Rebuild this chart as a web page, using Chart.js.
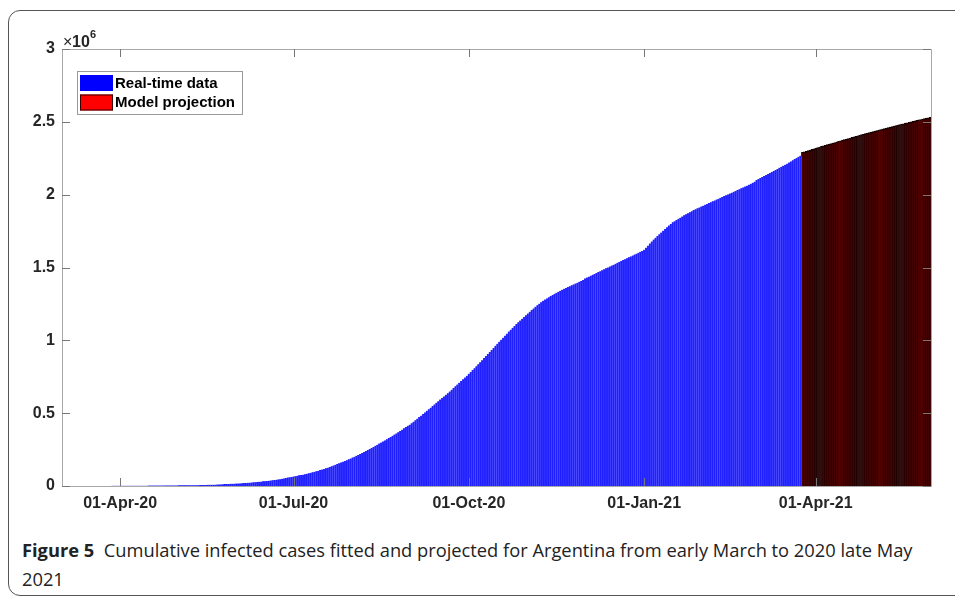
<!DOCTYPE html>
<html>
<head>
<meta charset="utf-8">
<script src="https://cdn.jsdelivr.net/npm/chart.js@4.4.1/dist/chart.umd.min.js"></script>
<style>
  body { margin: 0; background: #fff; width: 955px; height: 596px; overflow: hidden; position: relative; }
  .frame { position: absolute; left: 8px; top: 10px; width: 1000px; height: 584px; border: 1.5px solid #555; border-radius: 12px; }
  #wrap { position: absolute; left: 0; top: 0; width: 955px; height: 520px; }
  .caption { position: absolute; left: 22px; top: 535px; font-family: "Open Sans", sans-serif; font-size: 18.3px; line-height: 29px; color: #222; white-space: nowrap; }
  .caption b { font-weight: 700; }
</style>
</head>
<body>
<div class="frame"></div>
<div id="wrap"><canvas id="casesChart" width="955" height="520"></canvas></div>
<div class="caption"><b>Figure 5</b>&nbsp; Cumulative infected cases fitted and projected for Argentina from early March to 2020 late May<br>2021</div>
<script>
// cumulative cases, thousands, one value per day from 02-Mar-20
const realCases = [
    0,0,0,0,0,0,0,0,0,0,0,0,0,0,0,0,0,0,0,0,0,0,0,0,0,0,1,1,1,1,
    1,1,1,1,1,2,2,2,2,2,2,2,2,2,2,3,3,3,3,3,3,3,3,3,4,4,4,4,4,4,
    4,5,5,5,5,5,5,5,6,6,6,6,7,7,7,7,8,8,8,9,9,10,11,11,12,13,13,14,15,15,16,
    17,17,18,19,20,21,22,23,24,25,26,27,29,30,32,33,34,36,38,40,41,43,45,47,50,52,55,58,60,62,
    65,67,70,73,75,78,81,84,87,91,94,98,101,105,109,113,117,121,125,130,135,140,146,151,157,162,167,172,177,183,189,
    195,201,207,213,219,226,233,240,247,254,261,268,276,283,291,298,306,313,321,329,337,345,353,361,369,378,387,396,405,413,421,
    430,441,451,462,473,483,494,505,516,527,538,549,560,571,582,593,604,615,626,637,649,661,673,685,697,709,721,733,745,757,
    770,783,796,809,822,836,850,864,878,892,906,920,934,948,962,976,990,1004,1018,1032,1046,1060,1073,1086,1099,1112,1124,1136,1148,1160,1172,
    1184,1196,1208,1219,1230,1241,1251,1261,1271,1280,1288,1296,1304,1312,1319,1326,1333,1340,1347,1354,1360,1366,1372,1378,1384,1390,1396,1402,1408,1414,
    1425,1431,1437,1444,1450,1456,1463,1469,1475,1481,1488,1494,1500,1507,1513,1519,1526,1532,1538,1545,1551,1557,1564,1570,1576,1582,1589,1595,1601,1608,1614,
    1622,1636,1650,1664,1678,1692,1704,1716,1728,1740,1752,1764,1776,1788,1799,1810,1818,1826,1834,1842,1850,1858,1866,1873,1880,1887,1894,1900,1906,1912,1918,
    1924,1930,1936,1942,1948,1954,1960,1966,1972,1978,1984,1990,1996,2002,2008,2014,2020,2026,2032,2038,2044,2050,2056,2062,2068,2075,2082,2089,
    2100,2107,2114,2121,2128,2135,2142,2149,2156,2163,2170,2177,2184,2191,2198,2205,2212,2220,2228,2236,2244,2252,2260,2268
];

// model projection, thousands, 25-Mar-21 to 31-May-21
const projCases = [
    2290,2294,2298,2302,2306,2311,2315,2319,2323,2327,2331,
    2335,2339,2343,2347,2351,2355,2358,2362,2366,2370,
    2374,2378,2382,2385,2389,2393,2397,2400,2404,2408,
    2412,2415,2419,2422,2426,2429,2433,2437,2440,2444,
    2447,2451,2454,2457,2461,2464,2468,2471,2474,2478,
    2481,2484,2487,2491,2494,2497,2500,2504,2507,2510,
    2513,2516,2519,2522,2525,2528,2531
];

const tickDates = ['01-Apr-20', '01-Jul-20', '01-Oct-20', '01-Jan-21', '01-Apr-21'];
const legendNames = ['Real-time data', 'Model projection'];

const months = ['Jan','Feb','Mar','Apr','May','Jun','Jul','Aug','Sep','Oct','Nov','Dec'];
const labels = [];
for (let i = 0; i < realCases.length + projCases.length; i++) {
    const d = new Date(2020, 2, 2 + i);
    labels.push(String(d.getDate()).padStart(2, '0') + '-' + months[d.getMonth()] + '-' + String(d.getFullYear()).slice(2));
}

const fam = '"Liberation Sans", Arial, sans-serif';
const axisFont = { family: fam, size: 16, weight: 'bold' };
const axisColor = '#a8a8a8';

const framePlugin = {
    id: 'frame',
    afterDatasetsDraw(chart) {
        const { ctx, chartArea: a, scales: { x, y } } = chart;
        ctx.save();
        ctx.strokeStyle = axisColor;
        ctx.lineWidth = 1;
        ctx.beginPath();
        ctx.rect(Math.round(a.left) + 0.5, Math.round(a.top) + 0.5, Math.round(a.right - a.left), Math.round(a.bottom - a.top));
        ctx.stroke();
        ctx.strokeStyle = '#777';
        ctx.beginPath();
        x.ticks.forEach(t => {
            const px = Math.round(x.getPixelForValue(t.value)) + 0.5;
            ctx.moveTo(px, a.bottom); ctx.lineTo(px, a.bottom - 8);
            ctx.moveTo(px, a.top); ctx.lineTo(px, a.top + 8);
        });
        y.ticks.forEach(t => {
            const py = Math.round(y.getPixelForValue(t.value)) + 0.5;
            ctx.moveTo(a.left, py); ctx.lineTo(a.left + 8, py);
            ctx.moveTo(a.right, py); ctx.lineTo(a.right - 8, py);
        });
        ctx.stroke();
        ctx.restore();
    },
    afterDraw(chart) {
        const { ctx, chartArea: a } = chart;
        ctx.save();
        // exponent label
        ctx.fillStyle = '#262626';
        ctx.textBaseline = 'alphabetic';
        ctx.font = '16px ' + fam;
        ctx.fillText('\u00d7', a.left + 1, 47);
        ctx.font = 'bold 16px ' + fam;
        ctx.fillText('10', a.left + 10, 47);
        ctx.font = 'bold 11px ' + fam;
        ctx.fillText('6', a.left + 28, 38);

        // legend
        const lx = 77, ly = 71, lw = 165, lh = 43;
        ctx.fillStyle = '#fff';
        ctx.fillRect(lx, ly, lw, lh);
        ctx.strokeStyle = '#9a9a9a';
        ctx.strokeRect(lx + 0.5, ly + 0.5, lw, lh);
        const swatch = [['#0000ff', '#0000ff'], ['#ff0000', '#3a0000']];
        ctx.font = 'bold 15px ' + fam;
        ctx.textBaseline = 'middle';
        legendNames.forEach((name, i) => {
            const sy = ly + 4 + i * 19.5;
            ctx.fillStyle = swatch[i][0];
            ctx.fillRect(lx + 3, sy, 33, 16);
            ctx.strokeStyle = swatch[i][1];
            ctx.strokeRect(lx + 3.5, sy + 0.5, 32, 15);
            ctx.fillStyle = '#000';
            ctx.fillText(name, lx + 38, sy + 8.5);
        });
        ctx.restore();
    }
};

new Chart(document.getElementById('casesChart'), {
    type: 'bar',
    data: {
        labels: labels,
        datasets: [
            {
                label: legendNames[0],
                data: realCases.concat(projCases.map(() => null)),
                backgroundColor: '#2020ff',
                borderColor: '#6464ff',
                borderWidth: { left: 0.35, right: 0.35, top: 0 },
                borderSkipped: 'start'
            },
            {
                label: legendNames[1],
                data: realCases.map(() => null).concat(projCases),
                backgroundColor: '#4c0000',
                borderColor: '#150000',
                borderWidth: { left: 0.6, right: 0.6, top: 1.5 },
                borderSkipped: 'start'
            }
        ]
    },
    options: {
        responsive: false,
        animation: false,
        devicePixelRatio: 1,
        layout: { padding: { top: 49, right: 24, left: 0, bottom: 0 } },
        datasets: { bar: { grouped: false, barPercentage: 1, categoryPercentage: 1 } },
        plugins: { legend: { display: false }, tooltip: { enabled: false } },
        scales: {
            x: {
                offset: true,
                grid: { display: false, drawTicks: false },
                border: { display: false },
                ticks: { autoSkip: false, maxRotation: 0, font: axisFont, color: '#262626', padding: 8 },
                afterBuildTicks: s => { s.ticks = tickDates.map(t => ({ value: labels.indexOf(t) })); },
                afterFit: s => { s.height = 34; }
            },
            y: {
                min: 0,
                max: 3000,
                grid: { display: false, drawTicks: false },
                border: { display: false },
                ticks: { stepSize: 500, font: axisFont, color: '#262626', padding: 7, callback: v => v / 1000 },
                afterFit: s => { s.width = 62; }
            }
        }
    },
    plugins: [framePlugin]
});
</script>
</body>
</html>
